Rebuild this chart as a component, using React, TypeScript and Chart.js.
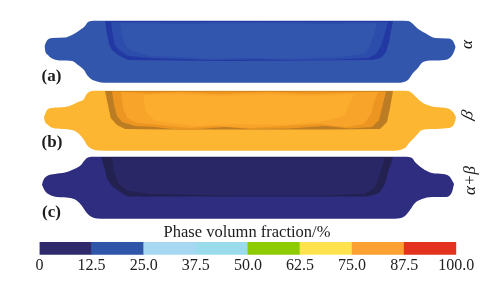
import React, { useEffect, useRef } from "react";
import { Chart, registerables } from "chart.js";

Chart.register(...registerables);

type P = [number, number];

const SERIF = '"Liberation Serif", "Times New Roman", serif';

// Colour bar
const colorBreaks = [0, 12.5, 25, 37.5, 50, 62.5, 75, 87.5, 100];
const tickLabels = ["0", "12.5", "25.0", "37.5", "50.0", "62.5", "75.0", "87.5", "100.0"];
const barColors = ["#2e2a6c", "#2f55a8", "#a6d9f1", "#9bdcec", "#8ecb02", "#ffe34e", "#fba031", "#e3331f"];
const barRow = 248.5;

// Panel (a) alpha
const aOuterTop: P[] = [[44.5, 46], [47, 40.5], [52, 38], [65, 37.5], [72, 35], [80, 30], [85, 26], [88, 22], [95, 20.7], [400, 20.7], [408, 21], [413, 24], [417, 28], [425, 33], [435, 38], [447, 38.5], [453, 41], [455.7, 47]];
const aOuterBot: P[] = [[44.5, 46], [45, 50], [48, 55], [53, 59], [62, 60.5], [72, 61], [78, 65], [84, 70], [87, 75], [91, 79], [97, 81.5], [105, 82.7], [398, 82.7], [408, 80], [413, 73], [417, 69], [423, 62], [432, 60.5], [445, 60], [453, 54], [455.7, 47]];
const aBandTop: P[] = [[105, 21], [393, 21]];
const aBandBot: P[] = [[105, 21], [107, 34], [109, 44], [112, 50], [118, 55], [128, 60], [180, 60.5], [230, 61], [300, 60.5], [372, 60], [381, 58], [386, 52], [389, 42], [393, 21]];
const aMidTop: P[] = [[111, 22], [388, 22]];
const aMidBot: P[] = [[111, 22], [113, 36], [115, 45], [119, 50], [128, 56], [150, 58], [180, 59], [210, 60], [250, 59.5], [290, 60], [340, 59.5], [368, 58], [376, 54], [381, 46], [384, 36], [388, 22]];
const aFaceTop: P[] = [[120, 23], [180, 24], [260, 23], [330, 24], [377, 23]];
const aFaceBot: P[] = [[120, 23], [122, 36], [125, 45], [131, 51], [150, 56], [180, 57], [210, 59], [250, 58], [290, 59], [340, 57], [364, 54], [370, 46], [374, 34], [377, 23]];

// Panel (b) beta
const bOuterTop: P[] = [[44, 117], [47, 110], [52, 108], [65, 107], [72, 105], [78, 102], [84, 99], [86, 95], [90, 91.5], [97, 90.7], [400, 90.7], [408, 91], [413, 94], [417, 98], [423, 103], [435, 107], [448, 108.5], [453, 112], [456, 117]];
const bOuterBot: P[] = [[44, 117], [44.5, 120], [48, 125], [53, 128], [62, 129], [72, 130], [78, 133], [84, 140], [87, 145], [92, 149], [100, 150.5], [110, 150.7], [392, 150.7], [405, 148], [410, 142], [415, 137], [422, 130], [432, 129], [448, 128], [455, 122], [456, 117]];
const bBandTop: P[] = [[105, 91], [393, 91]];
const bBandBot: P[] = [[105, 91], [108, 105], [110.7, 118], [117, 125], [125, 129], [170, 129.5], [260, 129.5], [330, 129.5], [380, 129], [387, 122], [390, 108], [393, 91]];
const bWallTop: P[] = [[112, 91.5], [386, 91.5]];
const bWallBot: P[] = [[112, 91.5], [114, 105], [117, 116], [122, 122], [135, 126], [155, 127], [172, 129], [200, 129], [225, 127], [250, 129], [290, 128.5], [325, 126], [350, 128.5], [372, 127], [379, 120], [382, 108], [386, 91.5]];
const bMidTop: P[] = [[121, 92], [150, 93.5], [180, 92], [220, 94], [270, 92], [310, 94], [350, 92.5], [378, 92]];
const bMidBot: P[] = [[121, 92], [123, 108], [127, 118], [137, 123], [160, 125], [190, 128], [215, 126], [250, 128], [285, 126], [320, 124], [345, 127], [364, 124], [371, 114], [374, 102], [378, 92]];
const bFaceTop: P[] = [[143, 95], [180, 94], [220, 96], [270, 94], [310, 96], [354, 94]];
const bFaceBot: P[] = [[143, 95], [146, 112], [155, 121], [195, 126], [230, 124], [280, 125], [320, 122], [344, 116], [354, 94]];

// Panel (c) alpha + beta
const cOuterTop: P[] = [[42, 185], [43, 181], [47, 176], [55, 174], [65, 172.5], [72, 170], [81, 165], [84, 161], [88, 157.5], [95, 156.7], [405, 156.7], [412, 158], [415, 162], [422, 168], [432, 173], [443, 174], [450, 177], [454, 184]];
const cOuterBot: P[] = [[42, 185], [45, 191], [50, 195], [57, 197], [70, 198], [76, 200], [82, 206], [86, 212], [90, 216], [97, 218.5], [105, 218.7], [395, 218.7], [405, 216], [410, 210], [415, 203], [422, 199], [432, 197], [445, 197], [452, 192], [454, 184]];
const cBandTop: P[] = [[101, 157], [393, 157]];
const cBandBot: P[] = [[101, 157], [105, 170], [107, 179], [112, 186], [120, 192], [128, 196.5], [368, 196.5], [379, 193], [385, 184], [388, 172], [393, 157]];
const cFaceTop: P[] = [[112, 158], [385, 158]];
const cFaceBot: P[] = [[112, 158], [114, 172], [118, 183], [128, 191], [150, 194], [230, 195.5], [320, 195.5], [365, 194], [375, 187], [380, 174], [385, 158]];

const pairs = (rows: P[]) => rows.map(([x, y]) => ({ x, y }));

const region = (top: P[], bot: P[], color: string, smooth = false) => {
  const line = {
    type: "line" as const,
    xAxisID: "xShape",
    borderWidth: 0,
    pointRadius: 0,
    cubicInterpolationMode: smooth ? ("monotone" as const) : ("default" as const),
  };
  return [
    { ...line, data: pairs(top), fill: "+1", backgroundColor: color },
    { ...line, data: pairs(bot), fill: false },
  ];
};

const notes = [
  { text: "(a)", x: 51.5, y: 76.5, font: `bold 17px ${SERIF}`, angle: 0 },
  { text: "(b)", x: 52, y: 143, font: `bold 17px ${SERIF}`, angle: 0 },
  { text: "(c)", x: 51.5, y: 212.5, font: `bold 17px ${SERIF}`, angle: 0 },
  { text: "α", x: 468, y: 44.5, font: `italic 17px ${SERIF}`, angle: -90 },
  { text: "β", x: 468, y: 115, font: `italic 17px ${SERIF}`, angle: -75 },
  { text: "α+β", x: 470.5, y: 180.5, font: `italic 17px ${SERIF}`, angle: -90 },
  { text: "Phase volumn fraction/%", x: 247, y: 233, font: `16.5px ${SERIF}`, angle: 0 },
];

const notesPlugin = {
  id: "notes",
  afterDraw(chart: any) {
    const { ctx } = chart;
    const sx = chart.scales.xShape;
    const sy = chart.scales.y;
    ctx.save();
    ctx.fillStyle = "#1c1c1c";
    ctx.textAlign = "center";
    ctx.textBaseline = "middle";
    for (const n of notes) {
      ctx.save();
      ctx.translate(sx.getPixelForValue(n.x), sy.getPixelForValue(n.y));
      ctx.rotate((n.angle * Math.PI) / 180);
      ctx.font = n.font;
      ctx.fillText(n.text, 0, 0);
      ctx.restore();
    }
    ctx.restore();
  },
};

export default function App() {
  const ref = useRef<HTMLCanvasElement>(null);
  useEffect(() => {
    const chart = new Chart(ref.current as HTMLCanvasElement, {
      type: "line",
      data: {
        datasets: [
          {
            type: "bar",
            indexAxis: "y",
            xAxisID: "x",
            yAxisID: "y",
            data: barColors.map((_, i) => ({ x: [colorBreaks[i], colorBreaks[i + 1]], y: barRow })),
            backgroundColor: barColors,
            barThickness: 12.4,
            grouped: false,
          } as any,
          ...region(aFaceTop, aFaceBot, "#3255ae"),
          ...region(aMidTop, aMidBot, "#2d4dac"),
          ...region(aBandTop, aBandBot, "#2238a2"),
          ...region(aOuterTop, aOuterBot, "#3356ad", true),
          ...region(bFaceTop, bFaceBot, "#fcad2e"),
          ...region(bMidTop, bMidBot, "#f8a42a"),
          ...region(bWallTop, bWallBot, "#ec9521"),
          ...region(bBandTop, bBandBot, "#bb7c24"),
          ...region(bOuterTop, bOuterBot, "#fdb631", true),
          ...region(cFaceTop, cFaceBot, "#292765"),
          ...region(cBandTop, cBandBot, "#232150"),
          ...region(cOuterTop, cOuterBot, "#2f2d80", true),
        ] as any,
      },
      options: {
        animation: false,
        responsive: false,
        layout: { padding: { left: 39.5, right: 33.7, top: 0, bottom: 0 } },
        plugins: { legend: { display: false }, tooltip: { enabled: false } },
        scales: {
          x: {
            type: "linear",
            position: "bottom",
            min: 0,
            max: 100,
            offset: false,
            grid: { display: false, drawTicks: false, offset: false },
            border: { display: false },
            afterBuildTicks(axis: any) {
              axis.ticks = colorBreaks.map((value) => ({ value }));
            },
            afterFit(axis: any) {
              axis.height = 28.3;
            },
            ticks: {
              autoSkip: false,
              maxRotation: 0,
              padding: 1,
              color: "#222222",
              font: { family: SERIF, size: 16 },
              callback: (_v: any, i: number) => tickLabels[i],
            },
          },
          xShape: { type: "linear", axis: "x", display: false, min: 39.5, max: 456.3, offset: false },
          y: { type: "linear", display: false, reverse: true, min: 0, max: 254.7, offset: false, grid: { offset: false } },
        },
      } as any,
      plugins: [notesPlugin],
    });
    return () => chart.destroy();
  }, []);
  return (
    <div style={{ position: "fixed", left: 0, top: 0, width: 490, height: 283, background: "#ffffff" }}>
      <canvas ref={ref} width={490} height={283} style={{ display: "block" }} />
    </div>
  );
}
